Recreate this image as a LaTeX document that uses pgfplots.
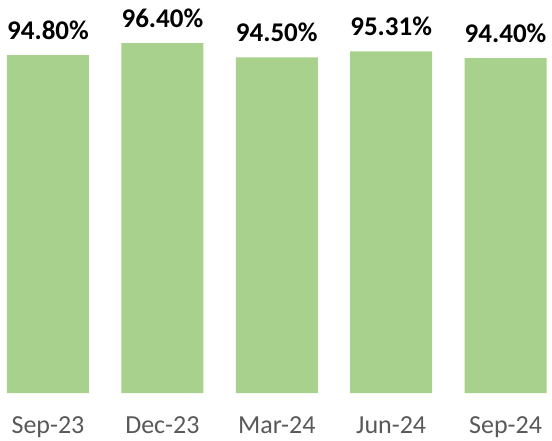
\documentclass[border=0pt]{standalone}
\usepackage{pgfplots}
\pgfplotsset{compat=1.18}
\usepackage{fontspec}
\setmainfont{Carlito}
\definecolor{barg}{HTML}{A9D18E}
\definecolor{lblgray}{HTML}{595959}
\begin{document}
\begin{tikzpicture}
\begin{axis}[
  scale only axis,
  width=552bp, height=393bp,
  xmin=-0.4196, xmax=4.406,
  ymin=50, ymax=102.1,
  axis line style={draw=none},
  major tick length=0pt,
  ytick=\empty,
  clip=false,
  ybar, bar width=82bp,
  xtick={0,1,2,3,4},
  xticklabels={Sep-23,Dec-23,Mar-24,Jun-24,Sep-24},
  xticklabel style={anchor=base, yshift=-40bp, text=lblgray, font=\fontsize{26bp}{31bp}\selectfont},
  point meta=explicit symbolic,
  nodes near coords,
  nodes near coords style={anchor=base, yshift=16bp, font=\bfseries\fontsize{27bp}{32bp}\selectfont, text=black},
]
\addplot[fill=barg, draw=none] coordinates {
  (0,94.80) [94.80\%]
  (1,96.40) [96.40\%]
  (2,94.50) [94.50\%]
  (3,95.31) [95.31\%]
  (4,94.40) [94.40\%]
};
\end{axis}
\end{tikzpicture}
\end{document}
